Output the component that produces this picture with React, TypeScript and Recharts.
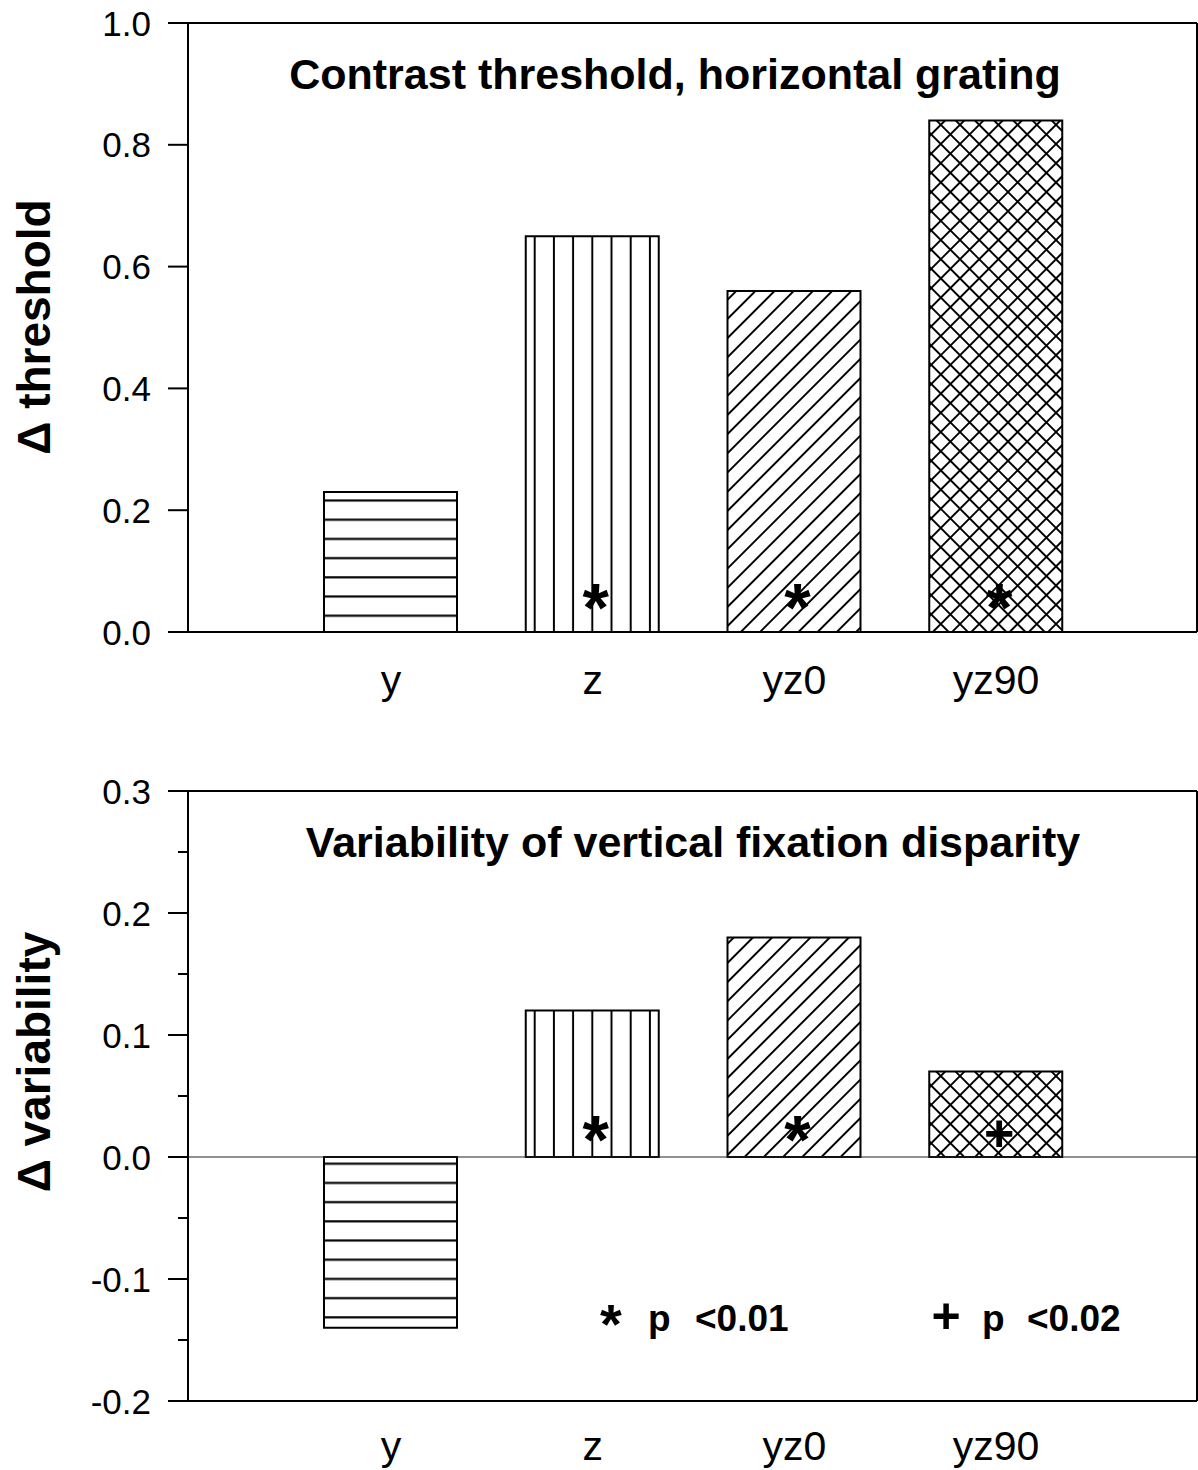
import { Bar, Cell, ComposedChart, ReferenceLine, Scatter, XAxis, YAxis } from "recharts"

const FONT = "'Liberation Sans', Arial, sans-serif"

const CATEGORIES = ["y", "z", "yz0", "yz90"]
const FILLS = ["horiz", "vert", "diag", "cross"]

const THRESHOLD = [0.23, 0.65, 0.56, 0.84]
const THRESHOLD_MARK = [null, 0.056, 0.056, 0.056]
const THRESHOLD_SYM = ["", "*", "*", "*"]
const THRESHOLD_TICKS = [0, 0.2, 0.4, 0.6, 0.8, 1.0]

const VARIABILITY = [-0.14, 0.12, 0.18, 0.07]
const VARIABILITY_MARK = [null, 0.022, 0.022, 0.02]
const VARIABILITY_SYM = ["", "*", "*", "+"]
const VARIABILITY_TICKS = [-0.2, -0.15, -0.1, -0.05, 0, 0.05, 0.1, 0.15, 0.2, 0.25, 0.3]

const NOTES = [
  { sym: "*", p: "p", text: "<0.01" },
  { sym: "+", p: "p", text: "<0.02" },
]

function Patterns({ id }: { id: string }) {
  const d = 19.2 / Math.SQRT2
  return (
    <defs>
      <pattern id={`${id}-horiz`} patternUnits="userSpaceOnUse" width={40} height={19.2}>
        <line x1={0} x2={40} y1={1.3} y2={1.3} stroke="#000" strokeWidth={2} />
      </pattern>
      <pattern id={`${id}-vert`} patternUnits="userSpaceOnUse" width={19.2} height={40}>
        <line x1={16.3} x2={16.3} y1={0} y2={40} stroke="#000" strokeWidth={2} />
      </pattern>
      <pattern id={`${id}-diag`} patternUnits="userSpaceOnUse" width={d} height={d} patternTransform="rotate(45)">
        <line x1={d / 2} x2={d / 2} y1={0} y2={d} stroke="#000" strokeWidth={2} />
      </pattern>
      <pattern id={`${id}-cross`} patternUnits="userSpaceOnUse" width={d} height={d} patternTransform="rotate(45)">
        <line x1={d / 2} x2={d / 2} y1={0} y2={d} stroke="#000" strokeWidth={2} />
        <line x1={0} x2={d} y1={d / 2} y2={d / 2} stroke="#000" strokeWidth={2} />
      </pattern>
    </defs>
  )
}

const YTick = (props: any) => {
  const { x, y, payload } = props
  const v = payload.value
  const major = Math.abs(v * 10 - Math.round(v * 10)) < 1e-6
  return (
    <g>
      <line x1={x + (major ? 17 : 27)} x2={x + 37} y1={y} y2={y} stroke="#000" strokeWidth={2} />
      {major && (
        <text x={x} y={y} dy="0.36em" textAnchor="end" fontSize={35} fill="#000" fontFamily={FONT}>
          {v.toFixed(1)}
        </text>
      )}
    </g>
  )
}

const Mark = (props: any) => {
  const { cx, cy, payload } = props
  if (!payload || !payload.sym || cx == null || cy == null) return <g />
  const plus = payload.sym === "+"
  const fs = plus ? 52 : 68
  const dy = plus ? 0.345 * fs : 0.48 * fs
  return (
    <text x={cx + 3} y={cy + dy} textAnchor="middle" fontSize={fs} fontWeight="bold" fill="#000" fontFamily={FONT}>
      {payload.sym}
    </text>
  )
}

type PanelProps = {
  id: string
  values: number[]
  marks: (number | null)[]
  syms: string[]
  domain: [number, number]
  ticks: number[]
  height: number
  top: number
  bottom: number
  labelGap: number
  zeroLine?: boolean
}

function Panel({ id, values, marks, syms, domain, ticks, height, top, bottom, labelGap, zeroLine }: PanelProps) {
  const data = CATEGORIES.map((name, i) => ({ name, value: values[i], mark: marks[i], sym: syms[i] }))
  return (
    <ComposedChart width={1198} height={height} data={data} margin={{ top, right: 0, left: 0, bottom }}>
      <Patterns id={id} />
      <XAxis
        dataKey="name"
        axisLine={{ stroke: "#000", strokeWidth: 2 }}
        tickLine={false}
        tickSize={0}
        tickMargin={labelGap}
        height={60}
        padding={{ left: 102, right: 100 }}
        tick={{ fill: "#000", fontSize: 41, fontFamily: FONT }}
        interval={0}
      />
      <YAxis
        type="number"
        domain={domain}
        ticks={ticks}
        width={188}
        axisLine={{ stroke: "#000", strokeWidth: 2 }}
        tickLine={false}
        tickSize={20}
        tickMargin={17}
        tick={<YTick />}
        interval={0}
        allowDataOverflow
      />
      <YAxis
        yAxisId="frame"
        orientation="right"
        type="number"
        domain={domain}
        width={1}
        tick={false}
        tickLine={false}
        axisLine={{ stroke: "#000", strokeWidth: 2 }}
      />
      <ReferenceLine y={domain[1]} stroke="#000" strokeWidth={2} />
      {zeroLine && <ReferenceLine y={0} stroke="#222" strokeWidth={1} />}
      <Bar dataKey="value" barSize={133} stroke="#000" strokeWidth={2} isAnimationActive={false}>
        {data.map((d, i) => (
          <Cell key={d.name} fill={`url(#${id}-${FILLS[i]})`} />
        ))}
      </Bar>
      <Scatter dataKey="mark" shape={<Mark />} isAnimationActive={false} />
    </ComposedChart>
  )
}

export default function App() {
  return (
    <div style={{ position: "absolute", left: 0, top: 0, width: 1198, height: 1470, background: "#fff" }}>
      <div style={{ position: "absolute", left: 0, top: 0 }}>
        <Panel
          id="thr"
          values={THRESHOLD}
          marks={THRESHOLD_MARK}
          syms={THRESHOLD_SYM}
          domain={[0, 1]}
          ticks={THRESHOLD_TICKS}
          height={740}
          top={23}
          bottom={48}
          labelGap={33}
        />
      </div>
      <div style={{ position: "absolute", left: 0, top: 740 }}>
        <Panel
          id="var"
          values={VARIABILITY}
          marks={VARIABILITY_MARK}
          syms={VARIABILITY_SYM}
          domain={[-0.2, 0.3]}
          ticks={VARIABILITY_TICKS}
          height={730}
          top={51}
          bottom={9}
          labelGap={30}
          zeroLine
        />
      </div>
      <svg
        width={1198}
        height={1470}
        style={{ position: "absolute", left: 0, top: 0, pointerEvents: "none" }}
        fontFamily={FONT}
      >
        <text x={675} y={89} textAnchor="middle" fontSize={43} fontWeight="bold">
          Contrast threshold, horizontal grating
        </text>
        <text x={693} y={857} textAnchor="middle" fontSize={43} fontWeight="bold">
          Variability of vertical fixation disparity
        </text>
        <text x={50} y={327} transform="rotate(-90 50 327)" textAnchor="middle" fontSize={46} fontWeight="bold">
          Δ threshold
        </text>
        <text x={50} y={1062} transform="rotate(-90 50 1062)" textAnchor="middle" fontSize={46} fontWeight="bold">
          Δ variability
        </text>
        {NOTES.map((n, i) => {
          const sx = i === 0 ? 611 : 946
          const px = i === 0 ? 648 : 982
          const tx = i === 0 ? 695 : 1027
          const fs = n.sym === "+" ? 50 : 56
          const dy = n.sym === "+" ? 0.345 * fs : 0.48 * fs
          return (
            <g key={n.text}>
              <text x={sx} y={1316 + dy} textAnchor="middle" fontSize={fs} fontWeight="bold">
                {n.sym}
              </text>
              <text x={px} y={1331} fontSize={37} fontWeight="bold">
                {n.p}
              </text>
              <text x={tx} y={1331} fontSize={37} fontWeight="bold">
                {n.text}
              </text>
            </g>
          )
        })}
      </svg>
    </div>
  )
}
